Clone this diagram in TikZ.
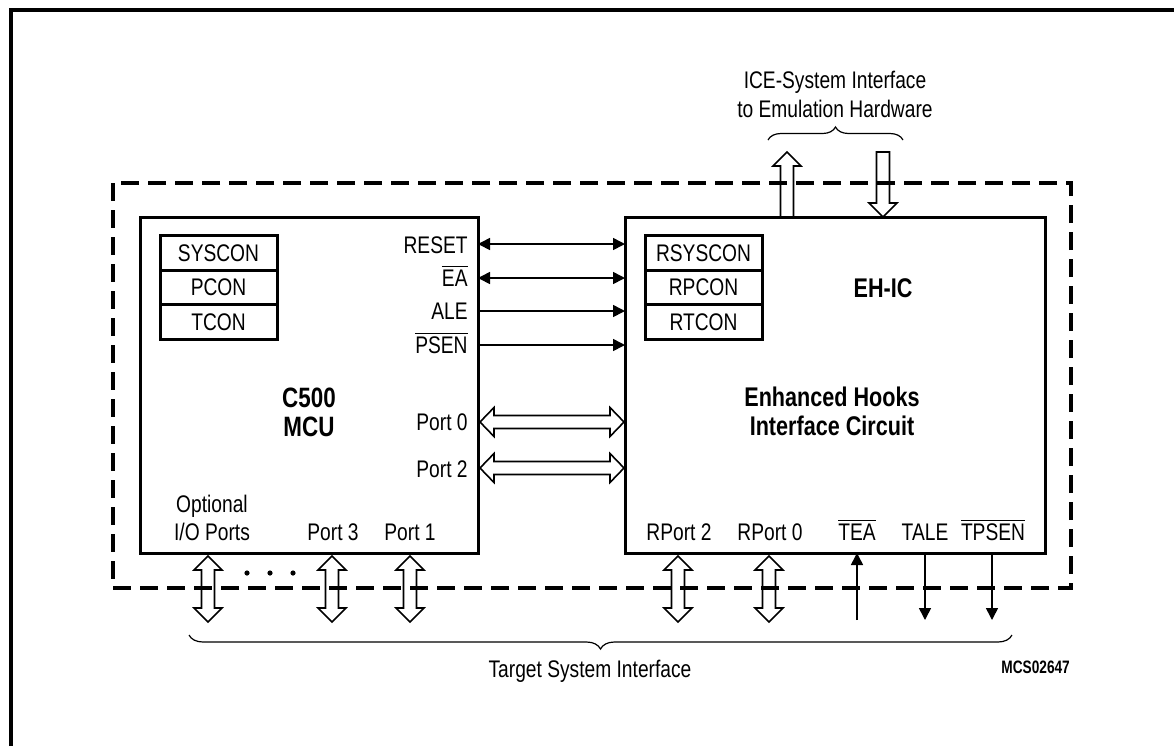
\documentclass[tikz,border=0pt]{standalone}
\usepackage{fontspec}
\setmainfont{Liberation Sans}[FakeStretch=0.8]
\usetikzlibrary{arrows.meta,decorations.pathreplacing}
\newcommand\ovl[1]{$\overline{\mbox{#1}}$}
\newcommand\hdarrow[3]{%
  \draw[hollow] (#1,#3) -- (#1+14,#3-14.5) -- (#1+14,#3-6.5) -- (#2-14,#3-6.5) -- (#2-14,#3-14.5) -- (#2,#3)
     -- (#2-14,#3+14.5) -- (#2-14,#3+6.5) -- (#1+14,#3+6.5) -- (#1+14,#3+14.5) -- cycle;}
\newcommand\vdarrow[3]{%
  \draw[hollow] (#1,#2) -- (#1+14,#2+14) -- (#1+6.5,#2+14) -- (#1+6.5,#3-14) -- (#1+14,#3-14) -- (#1,#3)
     -- (#1-14,#3-14) -- (#1-6.5,#3-14) -- (#1-6.5,#2+14) -- (#1-14,#2+14) -- cycle;}
% single arrow: x, base y, tip y, sign (+1 down, -1 up)
\newcommand\vsarrow[4]{%
  \draw[hollow] (#1-6.5,#2) -- (#1-6.5,#3-#4*14) -- (#1-14,#3-#4*14) -- (#1,#3) -- (#1+14,#3-#4*14)
     -- (#1+6.5,#3-#4*14) -- (#1+6.5,#2) -- cycle;}
\begin{document}
\begin{tikzpicture}[x=0.5pt,y=-0.5pt,
  box/.style={draw,line width=1.5pt,inner sep=0pt,outer sep=0pt},
  reg/.style={draw,line width=1.5pt,minimum width=58.5pt,minimum height=17.3pt,inner sep=0pt,outer sep=0pt,font=\fontsize{12}{14}\selectfont},
  lbl/.style={inner sep=0pt,font=\fontsize{12}{14}\selectfont},
  blbl/.style={inner sep=0pt,font=\fontsize{14}{16}\selectfont\bfseries},
  hollow/.style={draw,line width=0.8pt,line join=miter},
  thin/.style={line width=0.8pt},
  tip/.style={-{Triangle[length=6pt,width=6pt]}},
  dtip/.style={{Triangle[length=6pt,width=6pt]}-{Triangle[length=6pt,width=6pt]}},
  brc/.style={decorate,line width=0.6pt}]
\useasboundingbox (0,0) rectangle (1174,746);
% outer frame
\draw[line width=2pt] (11,746) -- (11,10) -- (1174,10);
% dashed boundary
\draw[line width=2pt,dash pattern=on 9pt off 4.5pt] (113,183) rectangle (1071,588);
% main boxes
\node[box,minimum width=169pt,minimum height=168pt] (mcu) at (309,385) {};
\node[box,minimum width=210pt,minimum height=168pt] (ehic) at (835,385) {};
% register stacks
\node[reg] (sys) at (218.5,253) {SYSCON};
\node[reg] (pcon) at (218.5,287.5) {PCON};
\node[reg] (tcon) at (218.5,322) {TCON};
\node[reg] (rsys) at (703.5,253) {RSYSCON};
\node[reg] (rpcon) at (703.5,287.5) {RPCON};
\node[reg] (rtcon) at (703.5,322) {RTCON};
% titles
\node[blbl,anchor=base] (c500) at (309,407) {C500};
\node[blbl,anchor=base] (mcut) at (309,436) {MCU};
\node[blbl,anchor=base,font=\fontsize{13.5}{16}\selectfont\bfseries] (ehict) at (883,297) {EH-IC};
\node[blbl,anchor=base,font=\fontsize{13.5}{16}\selectfont\bfseries] (enh) at (832,406) {Enhanced Hooks};
\node[blbl,anchor=base,font=\fontsize{13.5}{16}\selectfont\bfseries] (ifc) at (832,435) {Interface Circuit};
% MCU right labels
\node[lbl,anchor=base east] (lreset) at (468,253) {RESET};
\node[lbl,anchor=base east] (lea) at (468,286) {\ovl{EA}};
\node[lbl,anchor=base east] (lale) at (468,319) {ALE};
\node[lbl,anchor=base east] (lpsen) at (468,353) {\ovl{PSEN}};
\node[lbl,anchor=base east] (lp0) at (468,430) {Port 0};
\node[lbl,anchor=base east] (lp2) at (468,477) {Port 2};
% control signals
\draw[thin,dtip] (mcu.east |- 0,244) -- (ehic.west |- 0,244);
\draw[thin,dtip] (mcu.east |- 0,278) -- (ehic.west |- 0,278);
\draw[thin,tip] (mcu.east |- 0,311) -- (ehic.west |- 0,311);
\draw[thin,tip] (mcu.east |- 0,345) -- (ehic.west |- 0,345);
% port buses
\hdarrow{480}{624}{422}
\hdarrow{480}{624}{468}
% MCU bottom labels
\node[lbl,anchor=base,align=center] (lopt) at (212,540) {Optional\\I/O Ports};
\node[lbl,anchor=base] (lp3) at (333,540) {Port 3};
\node[lbl,anchor=base] (lp1) at (410,540) {Port 1};
% EH-IC bottom labels
\node[lbl,anchor=base] (lrp2) at (679,540) {RPort 2};
\node[lbl,anchor=base] (lrp0) at (770,540) {RPort 0};
\node[lbl,anchor=base] (ltea) at (857,540) {\ovl{TEA}};
\node[lbl,anchor=base] (ltale) at (925,540) {TALE};
\node[lbl,anchor=base] (ltpsen) at (993,540) {\ovl{TPSEN}};
% bottom buses
\vdarrow{208}{556}{622}
\vdarrow{332}{556}{622}
\vdarrow{410}{556}{622}
\vdarrow{678}{556}{622}
\vdarrow{769}{556}{622}
\fill (247,573) circle (1.3pt) (270,573) circle (1.3pt) (293,573) circle (1.3pt);
% target signals
\coordinate (teaend) at (857,620);
\coordinate (taleend) at (925,620);
\coordinate (tpsenend) at (992,620);
\draw[thin,tip] (teaend) -- (teaend |- ehic.south);
\draw[thin,tip] (taleend |- ehic.south) -- (taleend);
\draw[thin,tip] (tpsenend |- ehic.south) -- (tpsenend);
% ICE interface arrows
\vsarrow{787}{217}{152}{-1}
\vsarrow{883}{152}{217}{1}
% braces
\draw[brc,decoration={brace,amplitude=6.5pt}] (768,140) -- (903,140);
\draw[brc,decoration={brace,amplitude=7pt}] (1012,635) -- (189,635);
% interface labels
\node[lbl,anchor=base] (ice1) at (835,88) {ICE-System Interface};
\node[lbl,anchor=base] (ice2) at (835,117) {to Emulation Hardware};
\node[lbl,anchor=base] (tsi) at (590,677) {Target System Interface};
\node[inner sep=0pt,anchor=base west,font=\fontsize{9}{10}\selectfont\bfseries] (mcs) at (1001,673) {\scalebox{0.95}[1]{MCS02647}};
\end{tikzpicture}
\end{document}
